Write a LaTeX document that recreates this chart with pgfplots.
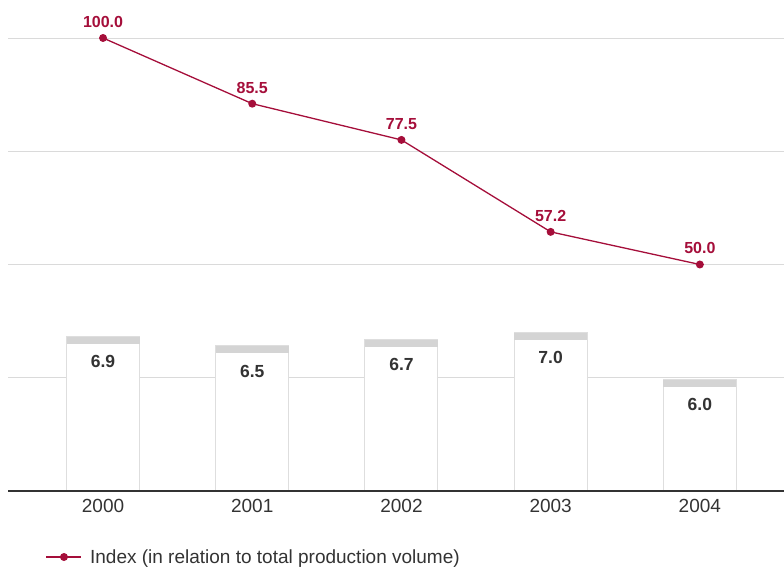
\documentclass[border=0pt]{standalone}
\usepackage{pgfplots}
\pgfplotsset{compat=1.18}
\usepackage{fontspec}
\setmainfont{Liberation Sans}
\definecolor{idx}{HTML}{A50E3A}
\definecolor{txt}{HTML}{333333}
\definecolor{gridc}{HTML}{DADADA}
\definecolor{barb}{HTML}{DEDEDE}
\definecolor{capc}{HTML}{D4D4D4}
\pgfdeclareplotmark{barcap}{\pgfpathrectangle{\pgfpoint{-36.5bp}{-7.5bp}}{\pgfpoint{73bp}{7.5bp}}\pgfusepathqfill}
\pgfplotstableread{
x h v
0 6.88 6.9
1 6.46 6.5
2 6.73 6.7
3 7.05 7.0
4 4.95 6.0
}\bars
\pgfplotstableread{
x v
0 100.0
1 85.5
2 77.5
3 57.2
4 50.0
}\index
\begin{document}
\begin{tikzpicture}
\path[use as bounding box] (0,0) rectangle (784bp,567bp);
\pgfplotsset{base/.style={scale only axis, width=776bp, height=453bp,
  at={(8bp,76bp)}, anchor=south west, xmin=-0.637, xmax=4.564, clip=false,
  /pgf/number format/.cd, fixed, fixed zerofill, precision=1, assume math mode=true}}
% grid
\begin{axis}[base, ymin=0, ymax=100, axis line style={draw=none},
  ytick={25,50,75,100}, yticklabels={}, xtick=\empty, major tick length=0,
  ymajorgrids, grid style={gridc, line width=0.9bp}]
\addplot[draw=none] coordinates {(0,0)};
\end{axis}
% bars
\begin{axis}[base, ymin=0, ymax=20.18, hide axis]
\addplot[ybar, bar width=73bp, bar shift=0pt, fill=white, draw=barb, line width=1bp,
  point meta=explicit, nodes near coords,
  nodes near coords style={anchor=north, yshift=-15bp, text=txt,
    font=\fontsize{17.5bp}{20bp}\selectfont\bfseries}]
  table[x=x, y=h, meta=v] {\bars};
\addplot[only marks, mark=barcap, mark options={fill=capc, draw=none}]
  table[x=x, y=h] {\bars};
\end{axis}
% line
\begin{axis}[base, ymin=0, ymax=100, axis x line*=bottom, axis y line=none,
  x axis line style={draw=txt, line width=1.2bp, -},
  xtick={0,1,2,3,4}, xticklabels={2000,2001,2002,2003,2004},
  major tick length=0,
  xticklabel style={text=txt, font=\fontsize{19bp}{22bp}\selectfont, yshift=-5bp},
  legend style={at={(0.0485,-0.1457)}, anchor=west, draw=none, fill=none,
    inner sep=0pt, font=\fontsize{19bp}{22bp}\selectfont, text=txt,
    /tikz/every odd column/.append style={column sep=6bp}},
  legend image code/.code={\draw[#1, mark repeat=2, mark phase=2] plot coordinates {(0bp,0bp)(17.5bp,0bp)(35bp,0bp)};}]
\addplot[idx, line width=1.3bp, mark=*, mark size=3.3bp,
  point meta=explicit, nodes near coords,
  nodes near coords style={anchor=south, yshift=6.5bp, text=idx,
    font=\fontsize{16bp}{19bp}\selectfont\bfseries}]
  table[x=x, y=v, meta=v] {\index};
\addlegendentry{Index (in relation to total production volume)}
\end{axis}
\end{tikzpicture}
\end{document}
